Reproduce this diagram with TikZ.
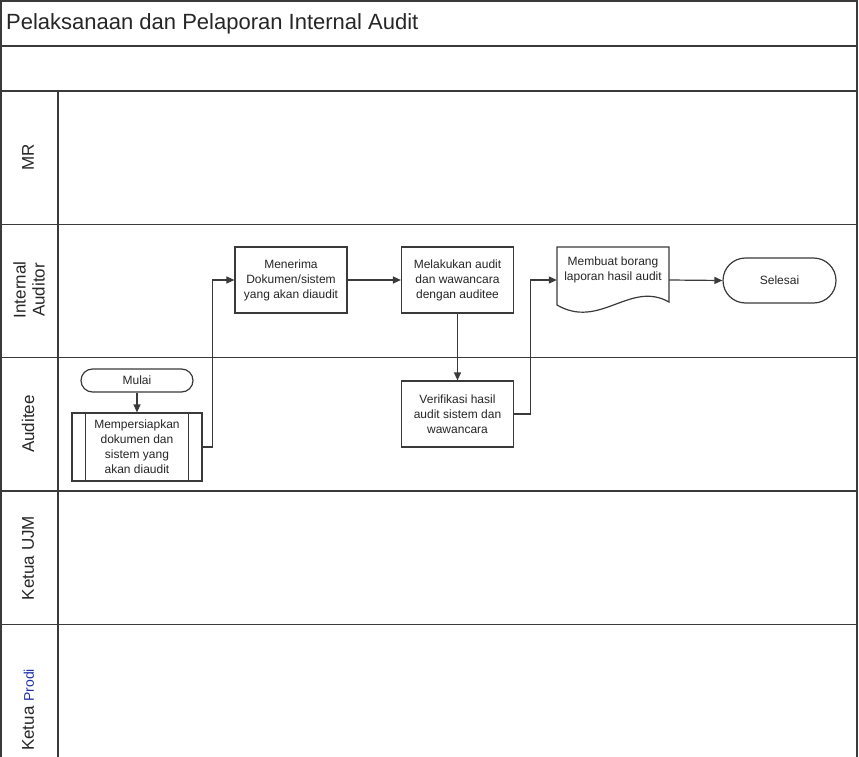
\documentclass[tikz,border=0pt]{standalone}
\usepackage{fontspec}
\setmainfont{Liberation Sans}
\usetikzlibrary{arrows.meta}
\definecolor{ln}{HTML}{3A3A3A}
\definecolor{tx}{HTML}{262626}
\definecolor{prodi}{HTML}{1F2FA8}
\begin{document}
\begin{tikzpicture}[x=1pt,y=-1pt,
  frame/.style={draw=ln,line width=1.5pt},
  nodefont/.style={font=\fontsize{12}{15}\selectfont, text=tx},
  proc/.style={nodefont, draw=ln, line width=1.2pt, fill=white, minimum width=112pt, minimum height=66pt, align=center, inner sep=0pt},
  term/.style={nodefont, draw=ln, line width=1.2pt, fill=white, inner sep=0pt},
  lanelbl/.style={rotate=90, font=\fontsize{17}{19}\selectfont, text=tx, align=center, inner sep=0pt},
  flow/.style={draw=ln, line width=1.2pt, -{Triangle[length=8pt,width=7pt]}}
]
\useasboundingbox (0,0) rectangle (859,757);
% frame
\draw[frame] (1,757) -- (1,1) -- (857,1) -- (857,757);
\draw[frame] (1,46) -- (857,46);
\draw[frame] (1,91) -- (857,91);
\draw[frame] (1,224.5) -- (857,224.5);
\draw[frame] (1,357.5) -- (857,357.5);
\draw[frame] (1,491) -- (857,491);
\draw[frame] (1,624.5) -- (857,624.5);
\draw[frame] (58,91) -- (58,757);
% title
\node[anchor=west, font=\fontsize{22}{26}\selectfont, text=tx, inner sep=0pt] (title) at (6,24) {Pelaksanaan dan Pelaporan Internal Audit};
% lane labels
\node[lanelbl] (lmr) at (28,157) {MR};
\node[lanelbl] (lia) at (29,290) {Internal\\Auditor};
\node[lanelbl] (lau) at (28,424) {Auditee};
\node[lanelbl] (luj) at (28,558) {Ketua UJM};
\node[lanelbl, anchor=west] (lkp) at (28,751) {Ketua {\fontsize{14}{15}\selectfont\color{prodi}Prodi}};
% nodes
\node[term, minimum width=112pt, minimum height=23pt, rounded corners=11.5pt] (mulai) at (137,380.5) {Mulai};
\node[proc, minimum width=130pt, minimum height=68pt] (memp) at (137,447) {Mempersiapkan\\dokumen dan\\sistem yang\\akan diaudit};
\draw[ln, line width=1.2pt] ([xshift=14pt]memp.north west) -- ([xshift=14pt]memp.south west);
\draw[ln, line width=1.2pt] ([xshift=-14pt]memp.north east) -- ([xshift=-14pt]memp.south east);
\node[proc] (mener) at (291,280) {Menerima\\Dokumen/sistem\\yang akan diaudit};
\node[proc] (melak) at (457.5,280) {Melakukan audit\\dan wawancara\\dengan auditee};
\node[proc] (verif) at (457.5,414) {Verifikasi hasil\\audit sistem dan\\wawancara};
\node[minimum width=112pt, minimum height=66pt, inner sep=0pt] (memb) at (613,280) {};
\draw[ln, line width=1.2pt, fill=white] (557,247) -- (669,247) -- (669,302) .. controls (630,280) and (600,330) .. (557,305) -- cycle;
\node[nodefont, align=center, inner sep=0pt] (membt) at (613,270) {Membuat borang\\laporan hasil audit};
\node[term, minimum width=113pt, minimum height=45pt, rounded corners=22.5pt] (selesai) at (779.5,280.5) {Selesai};
% connectors
\draw[flow] (mulai) -- (memp);
\draw[flow] (memp.east) -- ++(10,0) |- (mener.west);
\draw[flow] (mener) -- (melak);
\draw[flow] (melak) -- (verif);
\draw[flow] (verif.east) -- ++(16,0) |- (memb.west);
\draw[flow] (memb.east) -- (selesai.west);
\end{tikzpicture}
\end{document}
